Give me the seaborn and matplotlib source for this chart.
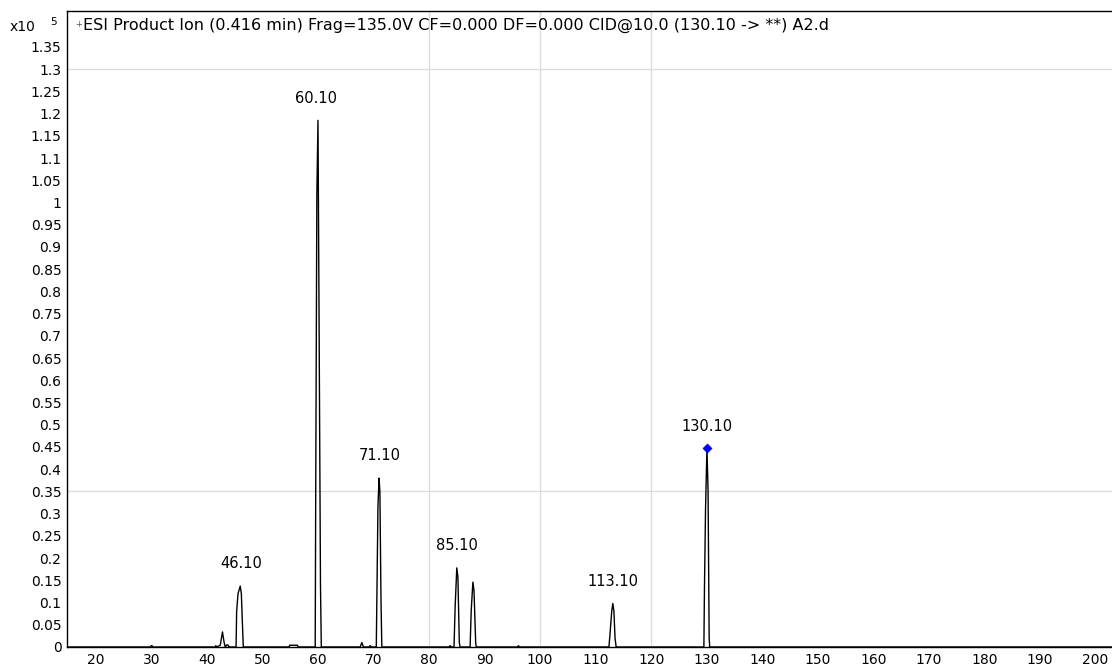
import numpy as np
import pandas as pd
import seaborn as sns
import matplotlib.pyplot as plt

# profile spectrum (m/z, intensity x10^5)
mz = [14.8, 29.8, 29.95, 30.1, 30.25,
      41.5, 41.6, 41.75, 42.4, 42.8, 43.1, 43.3, 43.6, 43.8, 44.0,
      45.25, 45.35, 45.6, 46.0, 46.2, 46.4, 46.55,
      54.8, 54.9, 56.3, 56.4,
      59.5, 59.6, 59.8, 60.0, 60.2, 60.45, 60.6,
      67.6, 67.9, 68.2, 69.2, 69.4, 69.6,
      70.5, 70.6, 70.8, 71.0, 71.15, 71.35, 71.5,
      83.6, 83.8, 84.0, 84.5, 84.7, 85.0, 85.2, 85.45, 85.6,
      87.4, 87.6, 87.9, 88.1, 88.4, 88.5,
      95.9, 96.1, 96.3,
      112.4, 112.6, 112.9, 113.1, 113.3, 113.5, 113.7,
      129.5, 129.6, 129.8, 130.05, 130.25, 130.45, 130.55,
      203.0]
intensity = [0, 0, 0.003, 0.003, 0,
             0, 0.003, 0, 0.004, 0.034, 0.01, 0, 0.005, 0.004, 0,
             0, 0.08, 0.12, 0.137, 0.12, 0.05, 0,
             0, 0.004, 0.004, 0,
             0, 0.37, 1.02, 1.185, 0.73, 0.14, 0,
             0, 0.01, 0, 0, 0.003, 0,
             0, 0.103, 0.316, 0.38, 0.35, 0.103, 0,
             0, 0.003, 0, 0, 0.09, 0.178, 0.158, 0.01, 0,
             0, 0.083, 0.146, 0.126, 0.01, 0,
             0, 0.003, 0,
             0, 0.03, 0.08, 0.098, 0.08, 0.02, 0,
             0, 0.128, 0.313, 0.447, 0.353, 0.02, 0,
             0]

label_mz = [46.10, 59.6, 71.10, 85.10, 113.10, 130.10]
label_y = [0.137, 1.185, 0.38, 0.178, 0.098, 0.447]
label_txt = ["46.10", "60.10", "71.10", "85.10", "113.10", "130.10"]

precursor_mz = [130.05]
precursor_y = [0.447]

x_ticks = list(range(20, 201, 10))
y_ticks = [round(0.05 * i, 2) for i in range(28)]

df = pd.DataFrame({"mz": mz, "intensity": intensity})

sns.set_style("white")
plt.rcParams["font.family"] = ["DejaVu Sans"]
plt.rcParams["text.color"] = "black"
plt.rcParams["xtick.color"] = "black"
plt.rcParams["ytick.color"] = "black"

fig = plt.figure(figsize=(11.12, 6.68), dpi=100)
ax = fig.add_axes([67 / 1112, 21 / 668, 1 - 67 / 1112, 636 / 668])

# sparse grid like the instrument software
for gx in [80, 100, 120]:
    ax.axvline(gx, color="#dcdcdc", lw=1, zorder=0)
for gy in [0.35, 1.3]:
    ax.axhline(gy, color="#dcdcdc", lw=1, zorder=0)

sns.lineplot(data=df, x="mz", y="intensity", ax=ax, color="black", lw=1.0,
             sort=False, estimator=None)
sns.scatterplot(x=precursor_mz, y=precursor_y, ax=ax, marker="D", s=22,
                color="#0000ff", edgecolor="#0000ff", zorder=5)

for xm, ym, t in zip(label_mz, label_y, label_txt):
    ax.annotate(t, (xm, ym), xytext=(0, 16), textcoords="offset points",
                ha="center", va="center", fontsize=10.5, color="black")

ax.set_xlim(14.8, 203)
ax.set_ylim(0, 1.431)
ax.set_xticks(x_ticks)
ax.set_yticks(y_ticks)
ax.set_yticklabels([f"{v:g}" for v in y_ticks])
ax.tick_params(axis="both", direction="out", length=3, width=0.8,
               labelsize=10, pad=1, color="black", labelcolor="black")
ax.set_xlabel("")
ax.set_ylabel("")
for side in ["left", "bottom", "top"]:
    ax.spines[side].set_color("black")
    ax.spines[side].set_linewidth(1)
ax.spines["right"].set_visible(False)

ax.text(0.008, 0.978, "+", transform=ax.transAxes, fontsize=6, color="#555555",
        va="center", ha="left")
ax.text(0.015, 0.978,
        "ESI Product Ion (0.416 min) Frag=135.0V CF=0.000 DF=0.000 CID@10.0 (130.10 -> **) A2.d",
        transform=ax.transAxes, fontsize=11.5, va="center", ha="left", color="black")
fig.text(10 / 1112, 1 - 27 / 668, "x10", fontsize=10, va="center", ha="left", color="black")
fig.text(50 / 1112, 1 - 22 / 668, "5", fontsize=7.5, va="center", ha="left", color="black")

fig.savefig("out.png", dpi=100)
